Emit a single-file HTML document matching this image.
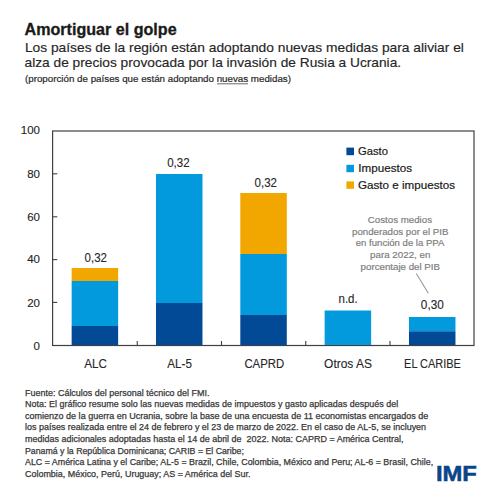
<!DOCTYPE html>
<html><head><meta charset="utf-8">
<style>
html,body{margin:0;padding:0;background:#fff;width:500px;height:500px;overflow:hidden}
svg{display:block}
text{font-family:"Liberation Sans",sans-serif}
</style></head>
<body>
<svg width="500" height="500" viewBox="0 0 500 500">
<rect x="0" y="0" width="500" height="500" fill="#fff"/>
<!-- Title -->
<text x="24.6" y="34.6" font-size="16" font-weight="bold" fill="#1a1a1a" stroke="#1a1a1a" stroke-width="0.3" textLength="152" lengthAdjust="spacingAndGlyphs">Amortiguar el golpe</text>
<text x="24.9" y="51.5" font-size="12.8" fill="#262626" stroke="#262626" stroke-width="0.15" textLength="439" lengthAdjust="spacingAndGlyphs">Los países de la región están adoptando nuevas medidas para aliviar el</text>
<text x="24.6" y="67" font-size="12.8" fill="#262626" stroke="#262626" stroke-width="0.15" textLength="376.5" lengthAdjust="spacingAndGlyphs">alza de precios provocada por la invasión de Rusia a Ucrania.</text>
<text x="25" y="81.6" font-size="9.2" fill="#2a2a2a" stroke="#2a2a2a" stroke-width="0.2" textLength="266" lengthAdjust="spacingAndGlyphs">(proporción de países que están adoptando nuevas medidas)</text>
<line x1="217" y1="83.8" x2="248" y2="83.8" stroke="#444" stroke-width="0.8"/>

<!-- Chart frame -->
<rect x="52.6" y="131" width="421.4" height="214.5" fill="none" stroke="#404040" stroke-width="1.2"/>
<!-- y ticks -->
<g stroke="#404040" stroke-width="1.1">
<line x1="52.5" y1="302.4" x2="57.3" y2="302.4"/>
<line x1="52.5" y1="259.6" x2="57.3" y2="259.6"/>
<line x1="52.5" y1="216.8" x2="57.3" y2="216.8"/>
<line x1="52.5" y1="173.8" x2="57.3" y2="173.8"/>
<line x1="137.25" y1="341" x2="137.25" y2="345.3"/>
<line x1="221.5" y1="341" x2="221.5" y2="345.3"/>
<line x1="305.75" y1="341" x2="305.75" y2="345.3"/>
<line x1="390" y1="341" x2="390" y2="345.3"/>
</g>
<!-- y labels -->
<g font-size="11.5" fill="#222" stroke="#222" stroke-width="0.1" text-anchor="end">
<text x="40" y="134">100</text>
<text x="40" y="177.8">80</text>
<text x="40" y="220.8">60</text>
<text x="40" y="263.4">40</text>
<text x="40" y="306.7">20</text>
<text x="40" y="349.8">0</text>
</g>

<!-- bars -->
<g>
<rect x="71.65" y="326" width="46.5" height="19.00" fill="#034a96"/>
<rect x="71.65" y="281" width="46.5" height="45.00" fill="#039add"/>
<rect x="71.65" y="268" width="46.5" height="13.00" fill="#f1a600"/>
<rect x="155.98" y="303" width="46.5" height="42.00" fill="#034a96"/>
<rect x="155.98" y="174" width="46.5" height="129.00" fill="#039add"/>
<rect x="240.31" y="315" width="46.5" height="30.00" fill="#034a96"/>
<rect x="240.31" y="254" width="46.5" height="61.00" fill="#039add"/>
<rect x="240.31" y="193" width="46.5" height="61.00" fill="#f1a600"/>
<rect x="324.64" y="310.5" width="46.5" height="34.50" fill="#039add"/>
<rect x="408.97" y="331.2" width="46.5" height="13.80" fill="#034a96"/>
<rect x="408.97" y="317" width="46.5" height="14.20" fill="#039add"/>
</g>

<!-- value labels -->
<g font-size="12" fill="#262626" stroke="#262626" stroke-width="0.1" text-anchor="middle">
<text x="95.8" y="262.2" textLength="22.4" lengthAdjust="spacingAndGlyphs">0,32</text>
<text x="178.4" y="167.4" textLength="22.4" lengthAdjust="spacingAndGlyphs">0,32</text>
<text x="265.8" y="186.5" textLength="22.4" lengthAdjust="spacingAndGlyphs">0,32</text>
<text x="348.1" y="303.2" textLength="19.2" lengthAdjust="spacingAndGlyphs">n.d.</text>
<text x="432.3" y="308.8" textLength="22.9" lengthAdjust="spacingAndGlyphs">0,30</text>
</g>

<!-- category labels -->
<g font-size="12" fill="#262626" stroke="#262626" stroke-width="0.1">
<text x="84.2" y="367.8" textLength="22.8" lengthAdjust="spacingAndGlyphs">ALC</text>
<text x="167.3" y="367.8" textLength="24.6" lengthAdjust="spacingAndGlyphs">AL-5</text>
<text x="244.4" y="367.8" textLength="39.8" lengthAdjust="spacingAndGlyphs">CAPRD</text>
<text x="324.1" y="367.8" textLength="47.8" lengthAdjust="spacingAndGlyphs">Otros AS</text>
<text x="404.1" y="367.8" textLength="56.8" lengthAdjust="spacingAndGlyphs">EL CARIBE</text>
</g>

<!-- legend -->
<rect x="346.4" y="147.6" width="7.6" height="7.6" fill="#034a96"/>
<rect x="346.4" y="164.8" width="7.6" height="7.4" fill="#039add"/>
<rect x="346.4" y="181.4" width="7.6" height="7.4" fill="#f1a600"/>
<g font-size="11.5" fill="#1a1a1a" stroke="#1a1a1a" stroke-width="0.2">
<text x="358" y="154.6" textLength="30" lengthAdjust="spacingAndGlyphs">Gasto</text>
<text x="358.3" y="171.8" textLength="53.7" lengthAdjust="spacingAndGlyphs">Impuestos</text>
<text x="358" y="189" textLength="97" lengthAdjust="spacingAndGlyphs">Gasto e impuestos</text>
</g>

<!-- annotation -->
<g font-size="9.3" fill="#7d7d7d" stroke="#7d7d7d" stroke-width="0.18" text-anchor="middle">
<text x="399.9" y="223" textLength="64.2" lengthAdjust="spacingAndGlyphs">Costos medios</text>
<text x="400.2" y="234.65" textLength="96.4" lengthAdjust="spacingAndGlyphs">ponderados por el PIB</text>
<text x="400.1" y="246.3" textLength="88.6" lengthAdjust="spacingAndGlyphs">en función de la PPA</text>
<text x="400.2" y="257.95" textLength="60.4" lengthAdjust="spacingAndGlyphs">para 2022, en</text>
<text x="400.3" y="269.6" textLength="79.4" lengthAdjust="spacingAndGlyphs">porcentaje del PIB</text>
</g>
<line x1="416.3" y1="273.5" x2="428.3" y2="293.3" stroke="#9a9a9a" stroke-width="1.1"/>

<!-- footnote -->
<g font-size="8.8" fill="#383838" stroke="#383838" stroke-width="0.25">
<text x="25" y="395.8" textLength="184.5" lengthAdjust="spacingAndGlyphs">Fuente: Cálculos del personal técnico del FMI.</text>
<text x="25" y="407.35" textLength="373.2" lengthAdjust="spacingAndGlyphs">Nota: El gráfico resume solo las nuevas medidas de impuestos y gasto aplicadas después del</text>
<text x="25" y="418.9" textLength="403.3" lengthAdjust="spacingAndGlyphs">comienzo de la guerra en Ucrania, sobre la base de una encuesta de 11 economistas encargados de</text>
<text x="25" y="430.45" textLength="401.1" lengthAdjust="spacingAndGlyphs">los países realizada entre el 24 de febrero y el 23 de marzo de 2022. En el caso de AL-5, se incluyen</text>
<text style="white-space:pre" x="25" y="442" textLength="378.5" lengthAdjust="spacingAndGlyphs">medidas adicionales adoptadas hasta el 14 de abril de  2022. Nota: CAPRD = América Central,</text>
<text x="25" y="453.55" textLength="218.9" lengthAdjust="spacingAndGlyphs">Panamá y la República Dominicana; CARIB = El Caribe;</text>
<text x="25" y="465.1" textLength="408.1" lengthAdjust="spacingAndGlyphs">ALC = América Latina y el Caribe; AL-5 = Brazil, Chile, Colombia, México and Peru; AL-6 = Brasil, Chile,</text>
<text x="25" y="476.65" textLength="225.5" lengthAdjust="spacingAndGlyphs">Colombia, México, Perú, Uruguay; AS = América del Sur.</text>
</g>

<!-- IMF logo -->
<text x="435.9" y="480.5" font-size="21.5" font-weight="bold" fill="#0a4589" stroke="#0a4589" stroke-width="0.5" textLength="41" lengthAdjust="spacingAndGlyphs">IMF</text>
</svg>
</body></html>
